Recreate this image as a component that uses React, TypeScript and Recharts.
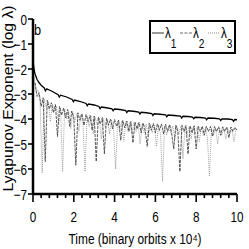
import React from 'react';
import { LineChart, Line, XAxis, YAxis, Legend } from 'recharts';

const FONT = "'Liberation Sans', Arial, sans-serif";
const SX = 0.78;

const xTicks = [0, 0.4, 0.8, 1.2, 1.6, 2, 2.4, 2.8, 3.2, 3.6, 4, 4.4, 4.8, 5.2, 5.6, 6, 6.4, 6.8, 7.2, 7.6, 8, 8.4, 8.8, 9.2, 9.6, 10];
const yTicks = [-7, -6, -5, -4, -3, -2, -1, 0];

const lambda1Time = [0.02, 0.05, 0.1, 0.2, 0.3, 0.4, 0.55, 0.61, 0.67, 0.95, 1.23, 1.29, 1.35, 1.65, 1.92, 1.98, 2.04, 2.32, 2.6, 2.66, 2.72, 3.0, 3.23, 3.29, 3.35, 3.6, 3.87, 3.93, 3.99, 4.27, 4.54, 4.6, 4.66, 4.92, 5.18, 5.24, 5.3, 5.56, 5.82, 5.88, 5.94, 6.22, 6.5, 6.56, 6.62, 6.92, 7.23, 7.29, 7.35, 7.6, 7.82, 7.88, 7.94, 8.2, 8.45, 8.51, 8.57, 8.88, 9.14, 9.2, 9.26, 9.55, 9.77, 9.83, 9.89, 10];
const lambda1Value = [-1.8, -2.0, -2.2, -2.42, -2.55, -2.65, -2.76, -2.87, -2.79, -2.9, -3.03, -3.12, -3.05, -3.12, -3.22, -3.31, -3.24, -3.3, -3.38, -3.47, -3.4, -3.44, -3.5, -3.59, -3.52, -3.55, -3.59, -3.67, -3.6, -3.62, -3.66, -3.74, -3.67, -3.69, -3.72, -3.8, -3.73, -3.75, -3.78, -3.86, -3.79, -3.81, -3.83, -3.91, -3.84, -3.86, -3.88, -3.96, -3.89, -3.9, -3.92, -3.99, -3.93, -3.94, -3.96, -4.03, -3.96, -3.97, -3.99, -4.06, -4.0, -4.0, -4.02, -4.09, -4.02, -4.03];

const lambda2Time = [0.1, 0.2, 0.3, 0.4, 0.5, 0.6, 0.7, 0.8, 0.9, 1.0, 1.1, 1.2, 1.3, 1.4, 1.5, 1.6, 1.7, 1.8, 1.9, 2.0, 2.1, 2.2, 2.3, 2.4, 2.5, 2.6, 2.7, 2.8, 2.9, 3.0, 3.1, 3.2, 3.3, 3.4, 3.5, 3.6, 3.7, 3.8, 3.9, 4.0, 4.1, 4.2, 4.3, 4.4, 4.5, 4.6, 4.7, 4.8, 4.9, 5.0, 5.1, 5.2, 5.3, 5.4, 5.5, 5.6, 5.7, 5.8, 5.9, 6.0, 6.1, 6.2, 6.3, 6.4, 6.5, 6.6, 6.7, 6.8, 6.9, 7.0, 7.1, 7.2, 7.3, 7.4, 7.5, 7.6, 7.7, 7.8, 7.9, 8.0, 8.1, 8.2, 8.3, 8.4, 8.5, 8.6, 8.7, 8.8, 8.9, 9.0, 9.1, 9.2, 9.3, 9.4, 9.5, 9.6, 9.7, 9.8, 9.9, 10.0];
const lambda2Value = [-2.55, -3.1, -2.95, -3.5, -3.15, -5.7, -3.25, -3.6, -3.35, -3.75, -3.42, -4.7, -3.5, -3.85, -3.56, -3.95, -3.62, -4.3, -3.68, -3.95, -5.85, -3.75, -4.05, -3.79, -4.25, -3.82, -4.1, -3.85, -4.45, -3.88, -5.7, -3.92, -4.2, -3.94, -5.4, -3.97, -4.25, -4.0, -4.4, -4.02, -4.3, -4.04, -4.85, -4.06, -4.35, -4.08, -4.5, -4.1, -4.95, -4.12, -4.4, -4.14, -4.55, -4.16, -4.45, -5.1, -4.17, -4.45, -4.18, -4.55, -4.19, -4.45, -4.2, -4.6, -4.21, -4.5, -4.22, -4.6, -5.2, -4.24, -4.5, -6.1, -4.25, -4.5, -4.26, -5.4, -4.27, -4.55, -4.27, -5.2, -4.28, -4.5, -4.29, -4.65, -4.29, -4.5, -4.3, -4.7, -4.3, -4.5, -4.31, -4.65, -4.31, -4.5, -4.32, -4.75, -4.32, -4.5, -4.33, -4.45];

const lambda3Time = [0.05, 0.15, 0.25, 0.35, 0.45, 0.55, 0.65, 0.75, 0.85, 0.95, 1.05, 1.15, 1.25, 1.35, 1.45, 1.55, 1.65, 1.75, 1.85, 1.95, 2.05, 2.15, 2.25, 2.35, 2.45, 2.55, 2.65, 2.75, 2.85, 2.95, 3.05, 3.15, 3.25, 3.35, 3.45, 3.55, 3.65, 3.75, 3.85, 3.95, 4.05, 4.15, 4.25, 4.35, 4.45, 4.55, 4.65, 4.75, 4.85, 4.95, 5.05, 5.15, 5.25, 5.35, 5.45, 5.55, 5.65, 5.75, 5.85, 5.95, 6.05, 6.15, 6.25, 6.35, 6.45, 6.55, 6.65, 6.75, 6.85, 6.95, 7.05, 7.15, 7.25, 7.35, 7.45, 7.55, 7.65, 7.75, 7.85, 7.95, 8.05, 8.15, 8.25, 8.35, 8.45, 8.55, 8.65, 8.75, 8.85, 8.95, 9.05, 9.15, 9.25, 9.35, 9.45, 9.55, 9.65, 9.75, 9.85, 9.95];
const lambda3Value = [-2.3, -2.9, -2.85, -3.35, -6.15, -3.2, -3.55, -3.3, -4.1, -3.4, -3.7, -3.48, -4.2, -3.55, -6.1, -3.6, -4.0, -3.68, -4.4, -3.73, -4.1, -3.78, -4.5, -3.82, -4.2, -6.1, -3.87, -4.3, -3.9, -4.6, -3.93, -4.25, -3.96, -4.8, -3.99, -4.35, -4.01, -4.6, -4.03, -4.4, -6.0, -4.07, -4.45, -4.09, -4.9, -4.11, -4.5, -4.13, -4.6, -4.15, -4.5, -4.17, -5.0, -4.19, -4.55, -4.2, -4.7, -4.22, -4.55, -4.23, -5.1, -4.24, -4.6, -6.5, -4.26, -4.65, -4.27, -4.55, -4.28, -4.8, -4.29, -4.6, -4.3, -5.6, -4.31, -4.65, -4.32, -4.8, -4.33, -4.6, -4.33, -4.9, -4.34, -4.65, -4.35, -4.75, -6.3, -4.36, -4.65, -4.37, -5.0, -4.37, -4.65, -4.38, -4.8, -4.39, -4.6, -4.39, -4.9, -4.4];

const seriesNames = ['1', '2', '3'];

const toData = (ts: number[], vs: number[]) => ts.map((t, i) => ({ t, v: vs[i] }));
const data1 = toData(lambda1Time, lambda1Value);
const data2 = toData(lambda2Time, lambda2Value);
const data3 = toData(lambda3Time, lambda3Value);

const isMajor = (v: number) => Math.abs(v - Math.round(v)) < 1e-6 && Math.round(v) % 2 === 0;

const NarrowText = ({ x, y, anchor = 'middle', size = 15, children }: any) => (
  <text transform={`translate(${x},${y}) scale(${SX},1)`} textAnchor={anchor} fontSize={size} fontFamily={FONT} fill="#000">
    {children}
  </text>
);

const BottomTick = (props: any) => {
  const { x, y, payload } = props;
  const major = isMajor(payload.value);
  return (
    <g>
      <line x1={x} x2={x} y1={y} y2={y + (major ? 8 : 4)} stroke="#000" strokeWidth={1.6} />
      {major && <NarrowText x={x} y={y + 28}>{payload.value}</NarrowText>}
    </g>
  );
};

const TopTick = (props: any) => {
  const { x, y, payload } = props;
  const major = isMajor(payload.value);
  return <line x1={x} x2={x} y1={y} y2={y - (major ? 8 : 4)} stroke="#000" strokeWidth={1.6} />;
};

const LeftTick = (props: any) => {
  const { x, y, payload } = props;
  const v = payload.value;
  return (
    <g>
      <line x1={x} x2={x - 5} y1={y} y2={y} stroke="#000" strokeWidth={1.6} />
      <NarrowText x={x - 6} y={y + 5.5} anchor="end">
        {v < 0 ? '\u2212' + Math.abs(v) : String(v)}
      </NarrowText>
    </g>
  );
};

const RightTick = (props: any) => {
  const { x, y } = props;
  return <line x1={x} x2={x + 5} y1={y} y2={y} stroke="#000" strokeWidth={1.6} />;
};

const XTitle = (props: any) => {
  const vb = props.viewBox || {};
  const cx = vb.x + vb.width / 2;
  return (
    <text x={cx} y={244} textAnchor="middle" fontSize={14} fontFamily={FONT} fill="#000" textLength={133} lengthAdjust="spacingAndGlyphs">
      Time (binary orbits x 10⁴)
    </text>
  );
};

const YTitle = (props: any) => {
  const vb = props.viewBox || {};
  const cy = vb.y + vb.height / 2 - 8;
  return (
    <text transform={`translate(13,${cy}) rotate(-90)`} x={0} y={0} textAnchor="middle" fontSize={14} fontFamily={FONT} fill="#000" textLength={186} lengthAdjust="spacingAndGlyphs">
      Lyapunov Exponent (log λ)
    </text>
  );
};

const renderLegend = () => {
  const dashes = [undefined, '3 1.5', '1 1'];
  const strokes = ['#000', '#444', '#777'];
  const starts = [3, 31, 59];
  return (
    <svg width={87} height={34} style={{ display: 'block' }}>
      <rect x={1} y={1} width={85} height={32} fill="#fff" stroke="#000" strokeWidth={2} />
      {seriesNames.map((n, i) => (
        <g key={n}>
          <line x1={starts[i]} x2={starts[i] + 12} y1={13} y2={13} stroke={strokes[i]} strokeWidth={0.8} strokeDasharray={dashes[i]} />
          <text transform={`translate(${starts[i] + 13},18) scale(${SX},1)`} fontSize={15} fontFamily={FONT} fill="#000">
            λ<tspan fontSize={13} dy={10}>{n}</tspan>
          </text>
        </g>
      ))}
    </svg>
  );
};

export default function App() {
  return (
    <div style={{ position: 'absolute', left: 0, top: 0, width: 249, height: 249, background: '#fff' }}>
      <LineChart width={249} height={249} margin={{ top: 19, right: 12, bottom: 0, left: 0 }}>
        <XAxis
          xAxisId="b"
          dataKey="t"
          type="number"
          domain={[0, 10]}
          ticks={xTicks}
          interval={0}
          allowDataOverflow
          height={55}
          tickSize={0}
          tickMargin={0}
          tickLine={false}
          axisLine={{ stroke: '#000', strokeWidth: 2.5 }}
          tick={<BottomTick />}
          label={<XTitle />}
        />
        <XAxis
          xAxisId="t"
          orientation="top"
          dataKey="t"
          type="number"
          domain={[0, 10]}
          ticks={xTicks}
          interval={0}
          allowDataOverflow
          height={0}
          tickSize={0}
          tickMargin={0}
          tickLine={false}
          axisLine={{ stroke: '#000', strokeWidth: 2.5 }}
          tick={<TopTick />}
        />
        <YAxis
          yAxisId="l"
          type="number"
          domain={[-7, 0]}
          ticks={yTicks}
          interval={0}
          allowDataOverflow
          width={33}
          tickSize={0}
          tickMargin={0}
          tickLine={false}
          axisLine={{ stroke: '#000', strokeWidth: 2.5 }}
          tick={<LeftTick />}
          label={<YTitle />}
        />
        <YAxis
          yAxisId="r"
          orientation="right"
          type="number"
          domain={[-7, 0]}
          ticks={yTicks}
          interval={0}
          allowDataOverflow
          width={0}
          tickSize={0}
          tickMargin={0}
          tickLine={false}
          axisLine={{ stroke: '#000', strokeWidth: 2.5 }}
          tick={<RightTick />}
        />
        <Legend
          layout="horizontal"
          verticalAlign="middle"
          align="center"
          wrapperStyle={{ left: 149, top: 20, width: 87, height: 34 }}
          content={renderLegend}
        />
        <Line xAxisId="b" yAxisId="l" data={data3} dataKey="v" name="λ3" stroke="#8a8a8a" strokeWidth={0.8} strokeDasharray="1 1" dot={false} isAnimationActive={false} />
        <Line xAxisId="b" yAxisId="l" data={data2} dataKey="v" name="λ2" stroke="#444" strokeWidth={0.9} strokeDasharray="3 1" dot={false} isAnimationActive={false} />
        <Line xAxisId="b" yAxisId="l" data={data1} dataKey="v" name="λ1" stroke="#000" strokeWidth={1.3} dot={false} isAnimationActive={false} />
      </LineChart>
      <div style={{ position: 'absolute', left: 34, top: 22, fontSize: 15, fontFamily: FONT, lineHeight: '15px', transform: 'scaleX(0.85)', transformOrigin: 'left top', pointerEvents: 'none' }}>b</div>
    </div>
  );
}
